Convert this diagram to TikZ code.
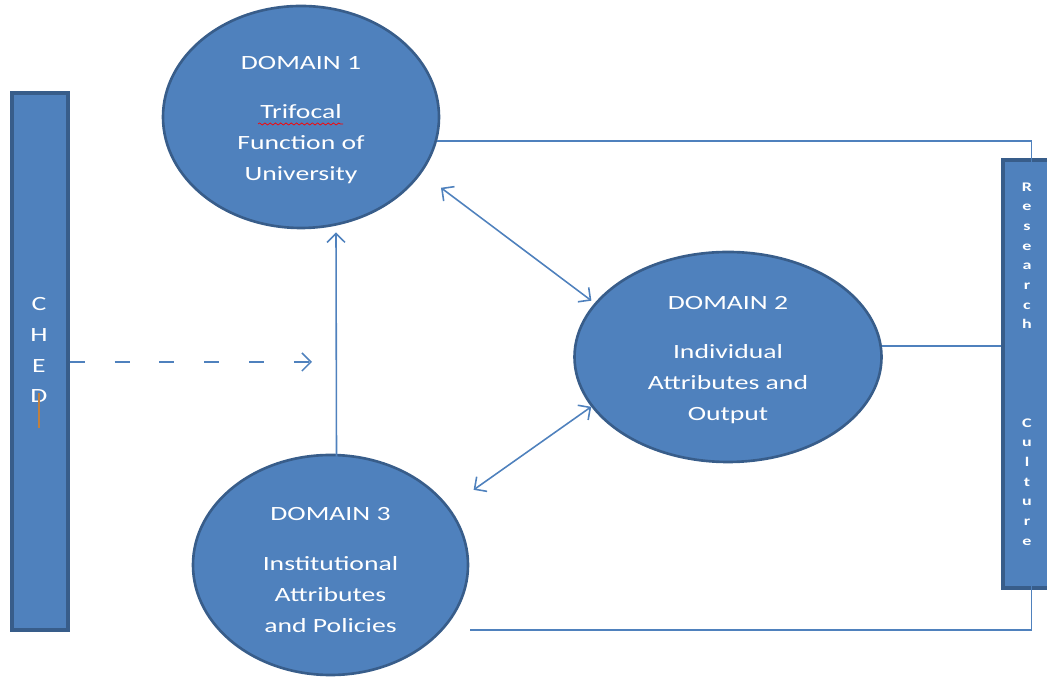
\documentclass[tikz,border=0pt]{standalone}
\usepackage{fontspec}
\newfontfamily\calib[FakeStretch=1.37]{Carlito}
\usetikzlibrary{shapes.geometric,arrows.meta,calc,decorations.pathmorphing}
\definecolor{dblue}{HTML}{4F81BD}
\definecolor{dborder}{HTML}{385D8A}
\definecolor{cursor}{HTML}{C0803F}
\tikzset{
  dombox/.style={ellipse,draw=dborder,line width=1.5pt,fill=dblue,inner sep=0pt},
  bar/.style={rectangle,draw=dborder,line width=2pt,fill=dblue,inner sep=0pt},
  dtext/.style={text=white,align=center,font=\calib\fontsize{11.5}{17.6}\selectfont},
  rtext/.style={text=white,align=center,font=\calib\bfseries\fontsize{7.5}{11.2}\selectfont},
  link/.style={draw=dblue,line width=0.9pt},
  tip/.style={-{Straight Barb[length=1.8mm,width=3.6mm]}},
  bothtips/.style={{Straight Barb[length=1.8mm,width=3.6mm]}-{Straight Barb[length=1.8mm,width=3.6mm]}}
}
\begin{document}
\begin{tikzpicture}
\useasboundingbox (0,0) rectangle (20.94,13.58);
% side bars
\node[bar,minimum width=1.12cm,minimum height=10.74cm] (ched) at (0.80,6.35) {};
\node[bar,minimum width=1.14cm,minimum height=8.56cm] (rc) at (20.63,6.1) {};
\node[dtext] (chedtxt) at (0.78,6.58) {C\\H\\E\\D};
\node[rtext] (rctxt) at (20.54,6.30) {R\\e\\s\\e\\a\\r\\c\\h\\[1.57cm]C\\u\\l\\t\\u\\r\\e};
\draw[cursor,line width=1.2pt] (0.78,5.72)--(0.78,5.02);
% domains
\node[dombox,minimum width=5.52cm,minimum height=4.44cm] (d1) at (6.02,11.24) {};
\node[dombox,minimum width=6.14cm,minimum height=4.2cm] (d2) at (14.56,6.44) {};
\node[dombox,minimum width=5.5cm,minimum height=4.4cm] (d3) at (6.61,2.28) {};
\node[dtext] (t1) at ($(d1)+(0,-0.06)$) {DOMAIN 1\\[10.8pt]Trifocal\\Function of\\University};
\node[dtext] (t2) at ($(d2)+(0,-0.06)$) {DOMAIN 2\\[10.8pt]Individual\\Attributes and\\Output};
\node[dtext] (t3) at ($(d3)+(0,-0.1)$) {DOMAIN 3\\[10.8pt]Institutional\\Attributes\\and Policies};
\draw[red,decorate,decoration={snake,amplitude=0.6pt,segment length=3pt}] (5.16,11.1)--(6.86,11.1);
% connectors
\draw[link] (d1.-10) -| ($(rc.north)+(0,-0.24)$);
\draw[link] (d2.4.5) -- (d2.4.5 -| rc.west);
\draw[link] ([xshift=0.54cm]d3.-30.4) -| ($(rc.south)+(0,0.96)$);
\draw[link,tip] ($(d3.north)+(0.12,-0.06)$) -- ($(d1.south)+(0.7,-0.06)$);
\draw[link,bothtips,shorten <=0.485cm,shorten >=0.08cm] (d1.-25) -- (d2.158.4);
\draw[link,bothtips,shorten >=0.6cm] (d2.200.7) -- (d3.26.5);
\coordinate (dashend) at (6.24,6.34);
\draw[link,tip,dash pattern=on 8.5pt off 17pt] (ched.east |- dashend) -- (dashend);
\end{tikzpicture}
\end{document}
